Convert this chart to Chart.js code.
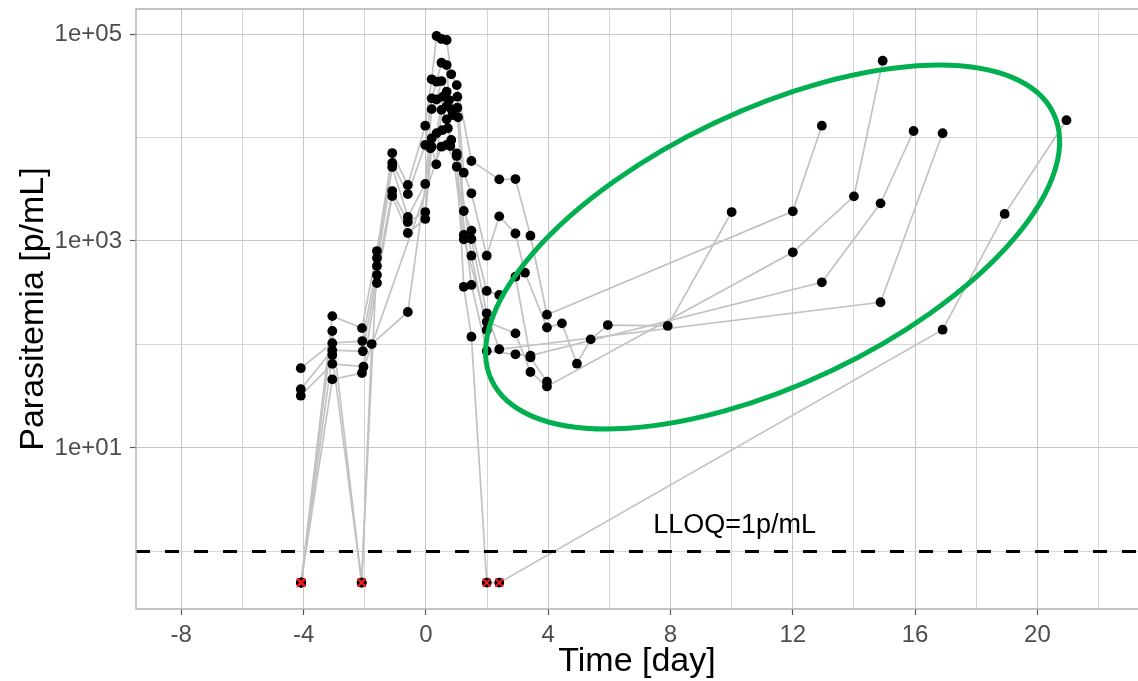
<!DOCTYPE html>
<html>
<head>
<meta charset="utf-8">
<script src="https://cdn.jsdelivr.net/npm/chart.js@4.4.1/dist/chart.umd.min.js"></script>
<style>
  html, body { margin: 0; padding: 0; background: #ffffff; }
  #wrap { width: 1138px; height: 681px; }
</style>
</head>
<body>
<div id="wrap"><canvas id="chart" width="1138" height="681"></canvas></div>
<script>
// ---- values -------------------------------------------------------------
const LLOQ = 1;        // lower limit of quantification, p/mL
const BLQ = 0.5;       // plotting value for samples below LLOQ

const xTickValues = [-8, -6, -4, -2, 0, 2, 4, 6, 8, 10, 12, 14, 16, 18, 20, 22];
const xTickLabels = ['-8', '', '-4', '', '0', '', '4', '', '8', '', '12', '', '16', '', '20', ''];
const yTickValues = [1, 10, 100, 1000, 10000, 100000];
const yTickLabels = ['', '1e+01', '', '1e+03', '', '1e+05'];

// individual parasitemia profiles: sampling day and parasites per mL
const dayA = [-4.08, -3.06, -2.09, -1.60, -1.10, -0.59, -0.02, 0.19, 0.35, 0.51, 0.68, 0.83, 1.01, 1.49, 2.40, 2.93, 3.42, 3.96, 12.00, 12.95];
const parA = [BLQ, 188, 144, 800, 7080, 3480, 13000, 36500, 95700, 89600, 87500, 40800, 32100, 5930, 3940, 3970, 1125, 194, 1935, 13000];

const dayB = [-4.08, -3.06, -2.10, -1.60, -1.10, -0.59, -0.02, 0.19, 0.35, 0.51, 0.68, 0.76, 1.03, 1.24, 1.49, 1.99, 2.40, 2.93, 3.24, 3.96, 4.45, 4.94, 5.39, 5.95, 7.91, 10.00];
const parB = [BLQ, 135, BLQ, 685, 5670, 2840, 8470, 23900, 34600, 52800, 50100, 23000, 24800, 4570, 2890, 721, 1730, 1181, 494, 146, 160, 65.2, 112, 154, 151, 1905];

const dayC = [-4.09, -3.06, -2.08, -1.60, -1.10, -0.59, -0.02, 0.19, 0.35, 0.51, 0.68, 0.83, 1.03, 1.24, 1.49, 1.99, 2.40, 2.93, 3.42, 3.96];
const parC = [59, 103, 108, 573, 5190, 1707, 3560, 18800, 23300, 35100, 27700, 18800, 19400, 1950, 1260, 329, 301, 452, 75, 43.7];

const dayD = [-4.09, -3.06, -2.06, -1.60, -1.10, -0.59, -0.02, 0.19, 0.35, 0.56, 0.68, 0.87, 1.05, 1.24, 1.49, 1.99, 2.40, 14.87, 16.90];
const parD = [37, 88, 86, 469, 3040, 1526, 1905, 9820, 11000, 24800, 20100, 16500, 15700, 1143, 1045, 200, 89.9, 256, 11000];

const dayE = [-4.09, -3.06, -2.04, -1.60, -1.10, -0.59, -0.02, 0.19, 0.34, 0.51, 0.68, 0.83, 1.24, 1.99, 2.93, 3.42, 3.96, 12.00, 14.00, 14.94];
const parE = [32, 65, 61, 393, 2720, 1195, 1633, 8150, 5510, 18500, 15000, 9460, 1038, 166, 128, 54.2, 39.3, 778, 2700, 55200];

const dayF = [-4.08, -3.06, -2.10, -1.77, -0.59, 0.15, 0.54, 0.72, 0.80, 1.01, 1.24, 1.49, 1.99, 2.40, 16.90, 18.93, 20.95];
const parF = [BLQ, 79, BLQ, 101, 206, 7870, 11800, 12300, 8280, 6620, 361, 119, BLQ, BLQ, 139, 1825, 14700];

const dayG = [-4.08, -3.06, -2.09, 0.51, 0.68, 1.01, 1.49, 1.99, 2.93, 3.42, 12.95, 14.87, 15.95];
const parG = [BLQ, 46, 53, 8150, 8470, 5220, 376, 86.5, 80.4, 78, 399, 2310, 11560];

const dayH = [1.01, 1.49, 1.99];
const parH = [7030, 721, 138];

// ---- layout & style -----------------------------------------------------
const X_MIN = -9.48, X_MAX = 23.29;
const Y_MIN = 0.278, Y_MAX = 1.745e5;
const FONT = "'Liberation Sans', Arial, Helvetica, sans-serif";
const GRID_MAJOR = '#c6c6c6';
const GRID_MINOR = '#d6d6d6';
const LINE_GREY = '#c2c2c2';

// highlighted region around the late recrudescences (centre in data units, radii in px)
const highlight = { day: 11.34, value: 875, rx: 311, ry: 137, tiltDeg: 25.4, color: '#00b050', width: 5 };
const lloqNote = { text: 'LLOQ=1p/mL', day: 10.1, value: 1.78 };

const profiles = [
  [dayA, parA], [dayB, parB], [dayC, parC], [dayD, parD],
  [dayE, parE], [dayF, parF], [dayG, parG], [dayH, parH]
];

const toPoints = (days, vals) => days.map((d, i) => ({ x: d, y: vals[i] }));

const lineSets = profiles.map(([d, p]) => ({
  data: toPoints(d, p),
  showLine: true,
  borderColor: LINE_GREY,
  borderWidth: 1.7,
  pointRadius: 0,
  pointHoverRadius: 0,
  order: 10
}));

const allPoints = profiles.flatMap(([d, p]) => toPoints(d, p));
const blqPoints = allPoints.filter(pt => pt.y === BLQ);

const datasets = [
  ...lineSets,
  {
    data: [{ x: X_MIN, y: LLOQ }, { x: X_MAX, y: LLOQ }],
    showLine: true,
    borderColor: '#000000',
    borderWidth: 3,
    borderDash: [14, 15],
    pointRadius: 0,
    order: 5
  },
  {
    data: allPoints,
    backgroundColor: '#000000',
    borderWidth: 0,
    pointRadius: 4.9,
    order: 1
  },
  {
    data: blqPoints,
    pointStyle: 'crossRot',
    borderColor: '#ff1a1a',
    borderWidth: 1.9,
    pointRadius: 5.6,
    order: 0
  }
];

// panel border (open on the right, where the panel runs off the canvas),
// LLOQ annotation and the highlight ellipse
const decorations = {
  id: 'decorations',
  afterDatasetsDraw(chart) {
    const { ctx, scales: { x, y } } = chart;
    ctx.save();
    ctx.font = `27px ${FONT}`;
    ctx.fillStyle = '#000000';
    ctx.textAlign = 'center';
    ctx.textBaseline = 'middle';
    ctx.fillText(lloqNote.text, x.getPixelForValue(lloqNote.day), y.getPixelForValue(lloqNote.value));

    ctx.beginPath();
    ctx.ellipse(x.getPixelForValue(highlight.day), y.getPixelForValue(highlight.value),
      highlight.rx, highlight.ry, -highlight.tiltDeg * Math.PI / 180, 0, 2 * Math.PI);
    ctx.lineWidth = highlight.width;
    ctx.strokeStyle = highlight.color;
    ctx.stroke();
    ctx.restore();
  },
  afterDraw(chart) {
    const { ctx, chartArea: a } = chart;
    ctx.save();
    ctx.strokeStyle = '#b0b0b0';
    ctx.lineWidth = 1.4;
    ctx.beginPath();
    ctx.moveTo(chart.width, a.top);
    ctx.lineTo(a.left, a.top);
    ctx.lineTo(a.left, a.bottom);
    ctx.lineTo(chart.width, a.bottom);
    ctx.stroke();
    ctx.restore();
  }
};

Chart.defaults.font.family = FONT;

new Chart(document.getElementById('chart'), {
  type: 'scatter',
  data: { datasets },
  options: {
    responsive: false,
    animation: false,
    events: [],
    layout: { autoPadding: false, padding: { top: 9, right: 0, bottom: 0, left: 0 } },
    plugins: { legend: { display: false }, tooltip: { enabled: false } },
    scales: {
      x: {
        type: 'linear',
        min: X_MIN,
        max: X_MAX,
        afterBuildTicks: s => { s.ticks = xTickValues.map(v => ({ value: v })); },
        afterFit: s => { s.height = 72; s.paddingLeft = 0; s.paddingRight = 0; },
        ticks: {
          autoSkip: false,
          maxRotation: 0,
          padding: 6,
          color: '#4d4d4d',
          font: { size: 24 },
          callback: (v, i) => xTickLabels[i]
        },
        grid: {
          color: c => xTickLabels[c.index] !== '' ? GRID_MAJOR : GRID_MINOR,
          lineWidth: 1,
          tickLength: 6,
          tickWidth: 1.2,
          tickColor: c => xTickLabels[c.index] !== '' ? '#555555' : 'rgba(0,0,0,0)'
        },
        border: { display: false },
        title: {
          display: true,
          text: 'Time [day]',
          color: '#000000',
          font: { size: 34 },
          padding: { top: 0, bottom: -1 }
        }
      },
      y: {
        type: 'logarithmic',
        min: Y_MIN,
        max: Y_MAX,
        afterBuildTicks: s => { s.ticks = yTickValues.map(v => ({ value: v })); },
        afterFit: s => { s.width = 136; s.paddingTop = 0; s.paddingBottom = 0; },
        ticks: {
          autoSkip: false,
          padding: 8,
          color: '#4d4d4d',
          font: { size: 24 },
          callback: (v, i) => yTickLabels[i]
        },
        grid: {
          color: c => yTickLabels[c.index] !== '' ? GRID_MAJOR : GRID_MINOR,
          lineWidth: 1,
          tickLength: 6,
          tickWidth: 1.2,
          tickColor: c => yTickLabels[c.index] !== '' ? '#555555' : 'rgba(0,0,0,0)'
        },
        border: { display: false },
        title: {
          display: true,
          text: 'Parasitemia [p/mL]',
          color: '#000000',
          font: { size: 34 },
          padding: { top: 13, bottom: 0 }
        }
      }
    }
  },
  plugins: [decorations]
});
</script>
</body>
</html>
